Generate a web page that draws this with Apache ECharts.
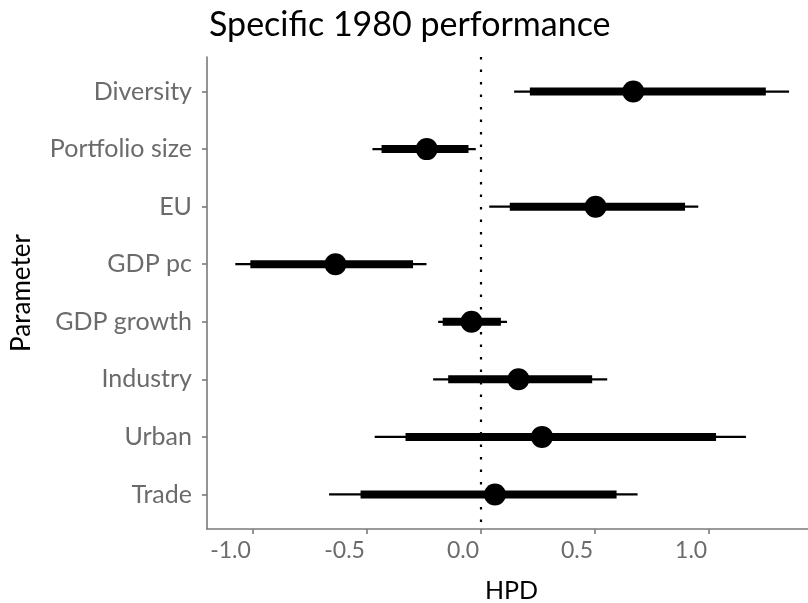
<!DOCTYPE html>
<html>
<head>
<meta charset="utf-8">
<style>
  html, body { margin: 0; padding: 0; background: #fff; }
  #chart { width: 808px; height: 603px; }
</style>
<script src="https://cdn.jsdelivr.net/npm/echarts@6/dist/echarts.min.js"></script>
</head>
<body>
<div id="chart"></div>
<script>
// Parameters, top to bottom
const parameters = ['Diversity', 'Portfolio size', 'EU', 'GDP pc', 'GDP growth', 'Industry', 'Urban', 'Trade'];
// Posterior point estimates
const estimate  = [0.667, -0.238, 0.502, -0.638, -0.042, 0.164, 0.267, 0.061];
// Outer (wide) HPD interval
const outerLow  = [0.145, -0.476, 0.036, -1.077, -0.188, -0.210, -0.466, -0.666];
const outerHigh = [1.350, -0.023, 0.952, -0.239, 0.114, 0.553, 1.161, 0.686];
// Inner (narrow) HPD interval
const innerLow  = [0.214, -0.436, 0.126, -1.011, -0.168, -0.144, -0.331, -0.528];
const innerHigh = [1.248, -0.055, 0.894, -0.298, 0.087, 0.487, 1.030, 0.594];
// Tick values on the HPD axis
const xTicks = [-1.0, -0.5, 0.0, 0.5, 1.0];

const rowPos = parameters.map((_, i) => i + 1);
const FONT = 'Lato';
const AXIS_GREY = '#7a7a7a';
const LABEL_GREY = '#6b6b6b';

function intervalData(lo, hi) {
  return rowPos.map((y, i) => [lo[i], hi[i], y]);
}

function intervalRenderer(width) {
  return function (params, api) {
    const a = api.coord([api.value(0), api.value(2)]);
    const b = api.coord([api.value(1), api.value(2)]);
    return {
      type: 'line',
      shape: { x1: a[0], y1: a[1], x2: b[0], y2: b[1] },
      style: { stroke: '#000', lineWidth: width, lineCap: 'butt' }
    };
  };
}

const chart = echarts.init(document.getElementById('chart'), null, { renderer: 'canvas' });

chart.setOption({
  animation: false,
  backgroundColor: '#ffffff',
  title: {
    text: 'Specific 1980 performance',
    left: 204,
    top: 3,
    textStyle: { fontFamily: FONT, fontSize: 34, fontWeight: 'normal', color: '#000' }
  },
  // the panel runs a little past the right edge of the canvas
  grid: { left: 207, right: -8, top: 57, bottom: 74, outerBoundsMode: 'none', containLabel: false },
  xAxis: {
    type: 'value',
    min: -1.201,
    max: 1.468,
    name: 'HPD',
    nameLocation: 'middle',
    nameGap: 49,
    nameTextStyle: { fontFamily: FONT, fontSize: 25, color: '#000' },
    axisLine: { show: true, onZero: false, lineStyle: { color: AXIS_GREY, width: 1.6 } },
    axisTick: { show: true, customValues: xTicks, length: 5, lineStyle: { color: AXIS_GREY, width: 1.6 } },
    axisLabel: {
      customValues: xTicks,
      formatter: v => v.toFixed(1),
      align: 'right',
      padding: [0, 2, 0, 0],
      fontFamily: FONT, fontSize: 23, color: LABEL_GREY, margin: 10
    },
    splitLine: { show: false }
  },
  yAxis: {
    type: 'value',
    inverse: true,
    min: 0.4,
    max: 8.6,
    name: 'Parameter',
    nameLocation: 'middle',
    nameGap: 172,
    nameRotate: 90,
    nameTextStyle: { fontFamily: FONT, fontSize: 26, color: '#000' },
    axisLine: { show: true, onZero: false, lineStyle: { color: AXIS_GREY, width: 1.6 } },
    axisTick: { show: true, customValues: rowPos, length: 5, lineStyle: { color: AXIS_GREY, width: 1.6 } },
    axisLabel: {
      customValues: rowPos,
      formatter: v => parameters[Math.round(v) - 1] || '',
      fontFamily: FONT, fontSize: 25, color: LABEL_GREY, margin: 15
    },
    splitLine: { show: false }
  },
  series: [
    {
      name: 'outer',
      type: 'custom',
      renderItem: intervalRenderer(2.3),
      encode: { x: [0, 1], y: 2 },
      data: intervalData(outerLow, outerHigh),
      silent: true,
      markLine: {
        silent: true,
        symbol: 'none',
        label: { show: false },
        lineStyle: { color: '#000', width: 2.2, type: [2.4, 10.1] },
        data: [{ xAxis: 0 }]
      }
    },
    {
      name: 'inner',
      type: 'custom',
      renderItem: intervalRenderer(8),
      encode: { x: [0, 1], y: 2 },
      data: intervalData(innerLow, innerHigh),
      silent: true
    },
    {
      name: 'estimate',
      type: 'scatter',
      symbol: 'circle',
      symbolSize: 22,
      itemStyle: { color: '#000', opacity: 1 },
      data: rowPos.map((y, i) => [estimate[i], y]),
      silent: true
    }
  ]
});
</script>
</body>
</html>
